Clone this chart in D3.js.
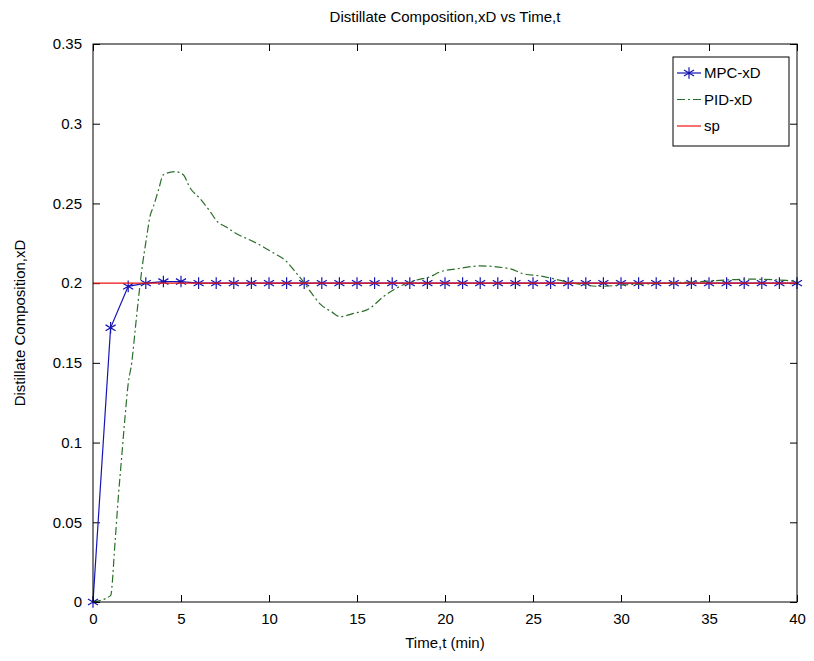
<!DOCTYPE html>
<html>
<head>
<meta charset="utf-8">
<script src="https://cdn.jsdelivr.net/npm/d3@7"></script>
<style>
  body { margin: 0; background: #fff; }
  text { font-family: "Liberation Sans", Arial, sans-serif; fill: #000; }
</style>
</head>
<body>
<svg id="chart" width="814" height="661"></svg>
<script>
// data
const mpcTime = [0,1,2,3,4,5,6,7,8,9,10,11,12,13,14,15,16,17,18,19,20,
  21,22,23,24,25,26,27,28,29,30,31,32,33,34,35,36,37,38,39,40];
const mpcXD = [0,0.172,0.198,0.2,0.201,0.201,0.2,0.2,0.2,0.2,0.2,0.2,0.2,0.2,0.2,0.2,0.2,0.2,0.2,0.2,0.2,
  0.2,0.2,0.2,0.2,0.2,0.2,0.2,0.2,0.2,0.2,0.2,0.2,0.2,0.2,0.2,0.2,0.2,0.2,0.2,0.2];

const pidTime = [0,1,1.25,1.44,1.63,1.82,2.0,2.2,2.4,2.57,2.77,3.05,3.24,3.43,3.71,4.0,4.66,5.13,5.5,
  6.08,6.65,7.03,7.6,8.16,8.73,9.3,10.24,11.0,11.5,11.95,12.4,12.9,13.56,14.03,14.8,15.7,16.5,
  17.44,18.4,19.15,19.7,20.7,22.0,23.7,24.4,25.4,27.3,28.8,30.3,32.6,34.5,37.3,39.4,40];
const pidXD = [0,0.004,0.037,0.066,0.091,0.116,0.137,0.15,0.171,0.189,0.208,0.229,0.242,0.248,0.258,0.268,0.27,0.268,0.26,
  0.253,0.245,0.239,0.235,0.231,0.228,0.225,0.219,0.2135,0.207,0.201,0.194,0.187,0.182,0.179,0.181,0.184,0.1915,
  0.198,0.202,0.204,0.207,0.209,0.2108,0.209,0.206,0.2045,0.2,0.198,0.199,0.2,0.201,0.2025,0.2017,0.201];

const spTime = [0,40];
const spXD = [0.2,0.2];

const xTicks = [0,5,10,15,20,25,30,35,40];
const yTicks = [0,0.05,0.1,0.15,0.2,0.25,0.3,0.35];
const yTickLabels = ['0','0.05','0.1','0.15','0.2','0.25','0.3','0.35'];

const seriesNames = ['MPC-xD','PID-xD','sp'];

// layout
const plotLeft = 93, plotRight = 797, plotTop = 44, plotBottom = 602;
const svg = d3.select('#chart');

const x = d3.scaleLinear().domain([0,40]).range([plotLeft,plotRight]);
const y = d3.scaleLinear().domain([0,0.35]).range([plotBottom,plotTop]);

// axes (ticks inside, mirrored on top and right)
svg.append('g')
  .attr('transform','translate(0,' + plotBottom + ')')
  .call(d3.axisBottom(x).tickValues(xTicks).tickSizeInner(-7).tickSizeOuter(0).tickPadding(11).tickFormat(d3.format('d')))
  .call(g => g.select('.domain').remove())
  .selectAll('text').style('font-size','15px').attr('dy','0.71em');

svg.append('g')
  .attr('transform','translate(0,' + plotTop + ')')
  .call(d3.axisTop(x).tickValues(xTicks).tickSizeInner(-7).tickSizeOuter(0).tickFormat(''))
  .call(g => g.select('.domain').remove());

svg.append('g')
  .attr('transform','translate(' + plotLeft + ',0)')
  .call(d3.axisLeft(y).tickValues(yTicks).tickSizeInner(-7).tickSizeOuter(0).tickPadding(11)
    .tickFormat((d,i) => yTickLabels[i]))
  .call(g => g.select('.domain').remove())
  .selectAll('text').style('font-size','15px');

svg.append('g')
  .attr('transform','translate(' + plotRight + ',0)')
  .call(d3.axisRight(y).tickValues(yTicks).tickSizeInner(-7).tickSizeOuter(0).tickFormat(''))
  .call(g => g.select('.domain').remove());

svg.selectAll('.tick line').attr('stroke','#000');

// lines
const line = d3.line().x(d => x(d[0])).y(d => y(d[1]));
const smooth = d3.line().x(d => x(d[0])).y(d => y(d[1])).curve(d3.curveMonotoneX);

const mpcData = d3.zip(mpcTime, mpcXD);
const pidData = d3.zip(pidTime, pidXD);
const spData = d3.zip(spTime, spXD);

const blue = '#1414b4', green = '#2b6e2b', red = '#ee1111';
const star = d3.symbol().type(d3.symbolAsterisk).size(95);

svg.append('path')
  .datum(mpcData)
  .attr('d', line)
  .attr('fill','none')
  .attr('stroke', blue)
  .attr('stroke-width',1.2);

svg.selectAll('.mpc-star')
  .data(mpcData)
  .enter()
  .append('path')
  .attr('class','mpc-star')
  .attr('transform', d => 'translate(' + x(d[0]) + ',' + y(d[1]) + ')')
  .attr('d', star)
  .attr('fill','none')
  .attr('stroke', blue)
  .attr('stroke-width',1.2);

svg.append('path')
  .datum(pidData)
  .attr('d', smooth)
  .attr('fill','none')
  .attr('stroke', green)
  .attr('stroke-width',1.2)
  .attr('stroke-dasharray','8,3,2,3');

svg.append('path')
  .datum(spData)
  .attr('d', line)
  .attr('fill','none')
  .attr('stroke', red)
  .attr('stroke-width',1.2);

// frame
svg.append('rect')
  .attr('x', plotLeft).attr('y', plotTop)
  .attr('width', plotRight - plotLeft).attr('height', plotBottom - plotTop)
  .attr('fill','none')
  .attr('stroke','#000')
  .attr('stroke-width',1);

// titles
svg.append('text')
  .attr('x', (plotLeft + plotRight) / 2).attr('y', 22)
  .attr('text-anchor','middle')
  .style('font-size','15px')
  .text('Distillate Composition,xD vs Time,t');

svg.append('text')
  .attr('x', (plotLeft + plotRight) / 2).attr('y', 648)
  .attr('text-anchor','middle')
  .style('font-size','15px')
  .text('Time,t (min)');

svg.append('text')
  .attr('transform','translate(25,' + (plotTop + plotBottom) / 2 + ') rotate(-90)')
  .attr('text-anchor','middle')
  .style('font-size','15px')
  .text('Distillate Composition,xD');

// legend
const legend = svg.append('g').attr('transform','translate(673,57)');
legend.append('rect')
  .attr('width',116).attr('height',89)
  .attr('fill','#fff')
  .attr('stroke','#000');

const rows = [
  {name: seriesNames[0], color: blue, dash: null, mark: true},
  {name: seriesNames[1], color: green, dash: '8,3,2,3', mark: false},
  {name: seriesNames[2], color: red, dash: null, mark: false}
];

rows.forEach(function(r, i){
  const yy = 16 + i * 26.5;
  legend.append('line')
    .attr('x1',4).attr('x2',28).attr('y1',yy).attr('y2',yy)
    .attr('stroke', r.color)
    .attr('stroke-width',1.2)
    .attr('stroke-dasharray', r.dash);
  if (r.mark) {
    legend.append('path')
      .attr('transform','translate(16,' + yy + ')')
      .attr('d', star)
      .attr('fill','none')
      .attr('stroke', r.color)
      .attr('stroke-width',1.2);
  }
  legend.append('text')
    .attr('x',31).attr('y',yy)
    .attr('dy','0.35em')
    .style('font-size','15px')
    .text(r.name);
});
</script>
</body>
</html>
